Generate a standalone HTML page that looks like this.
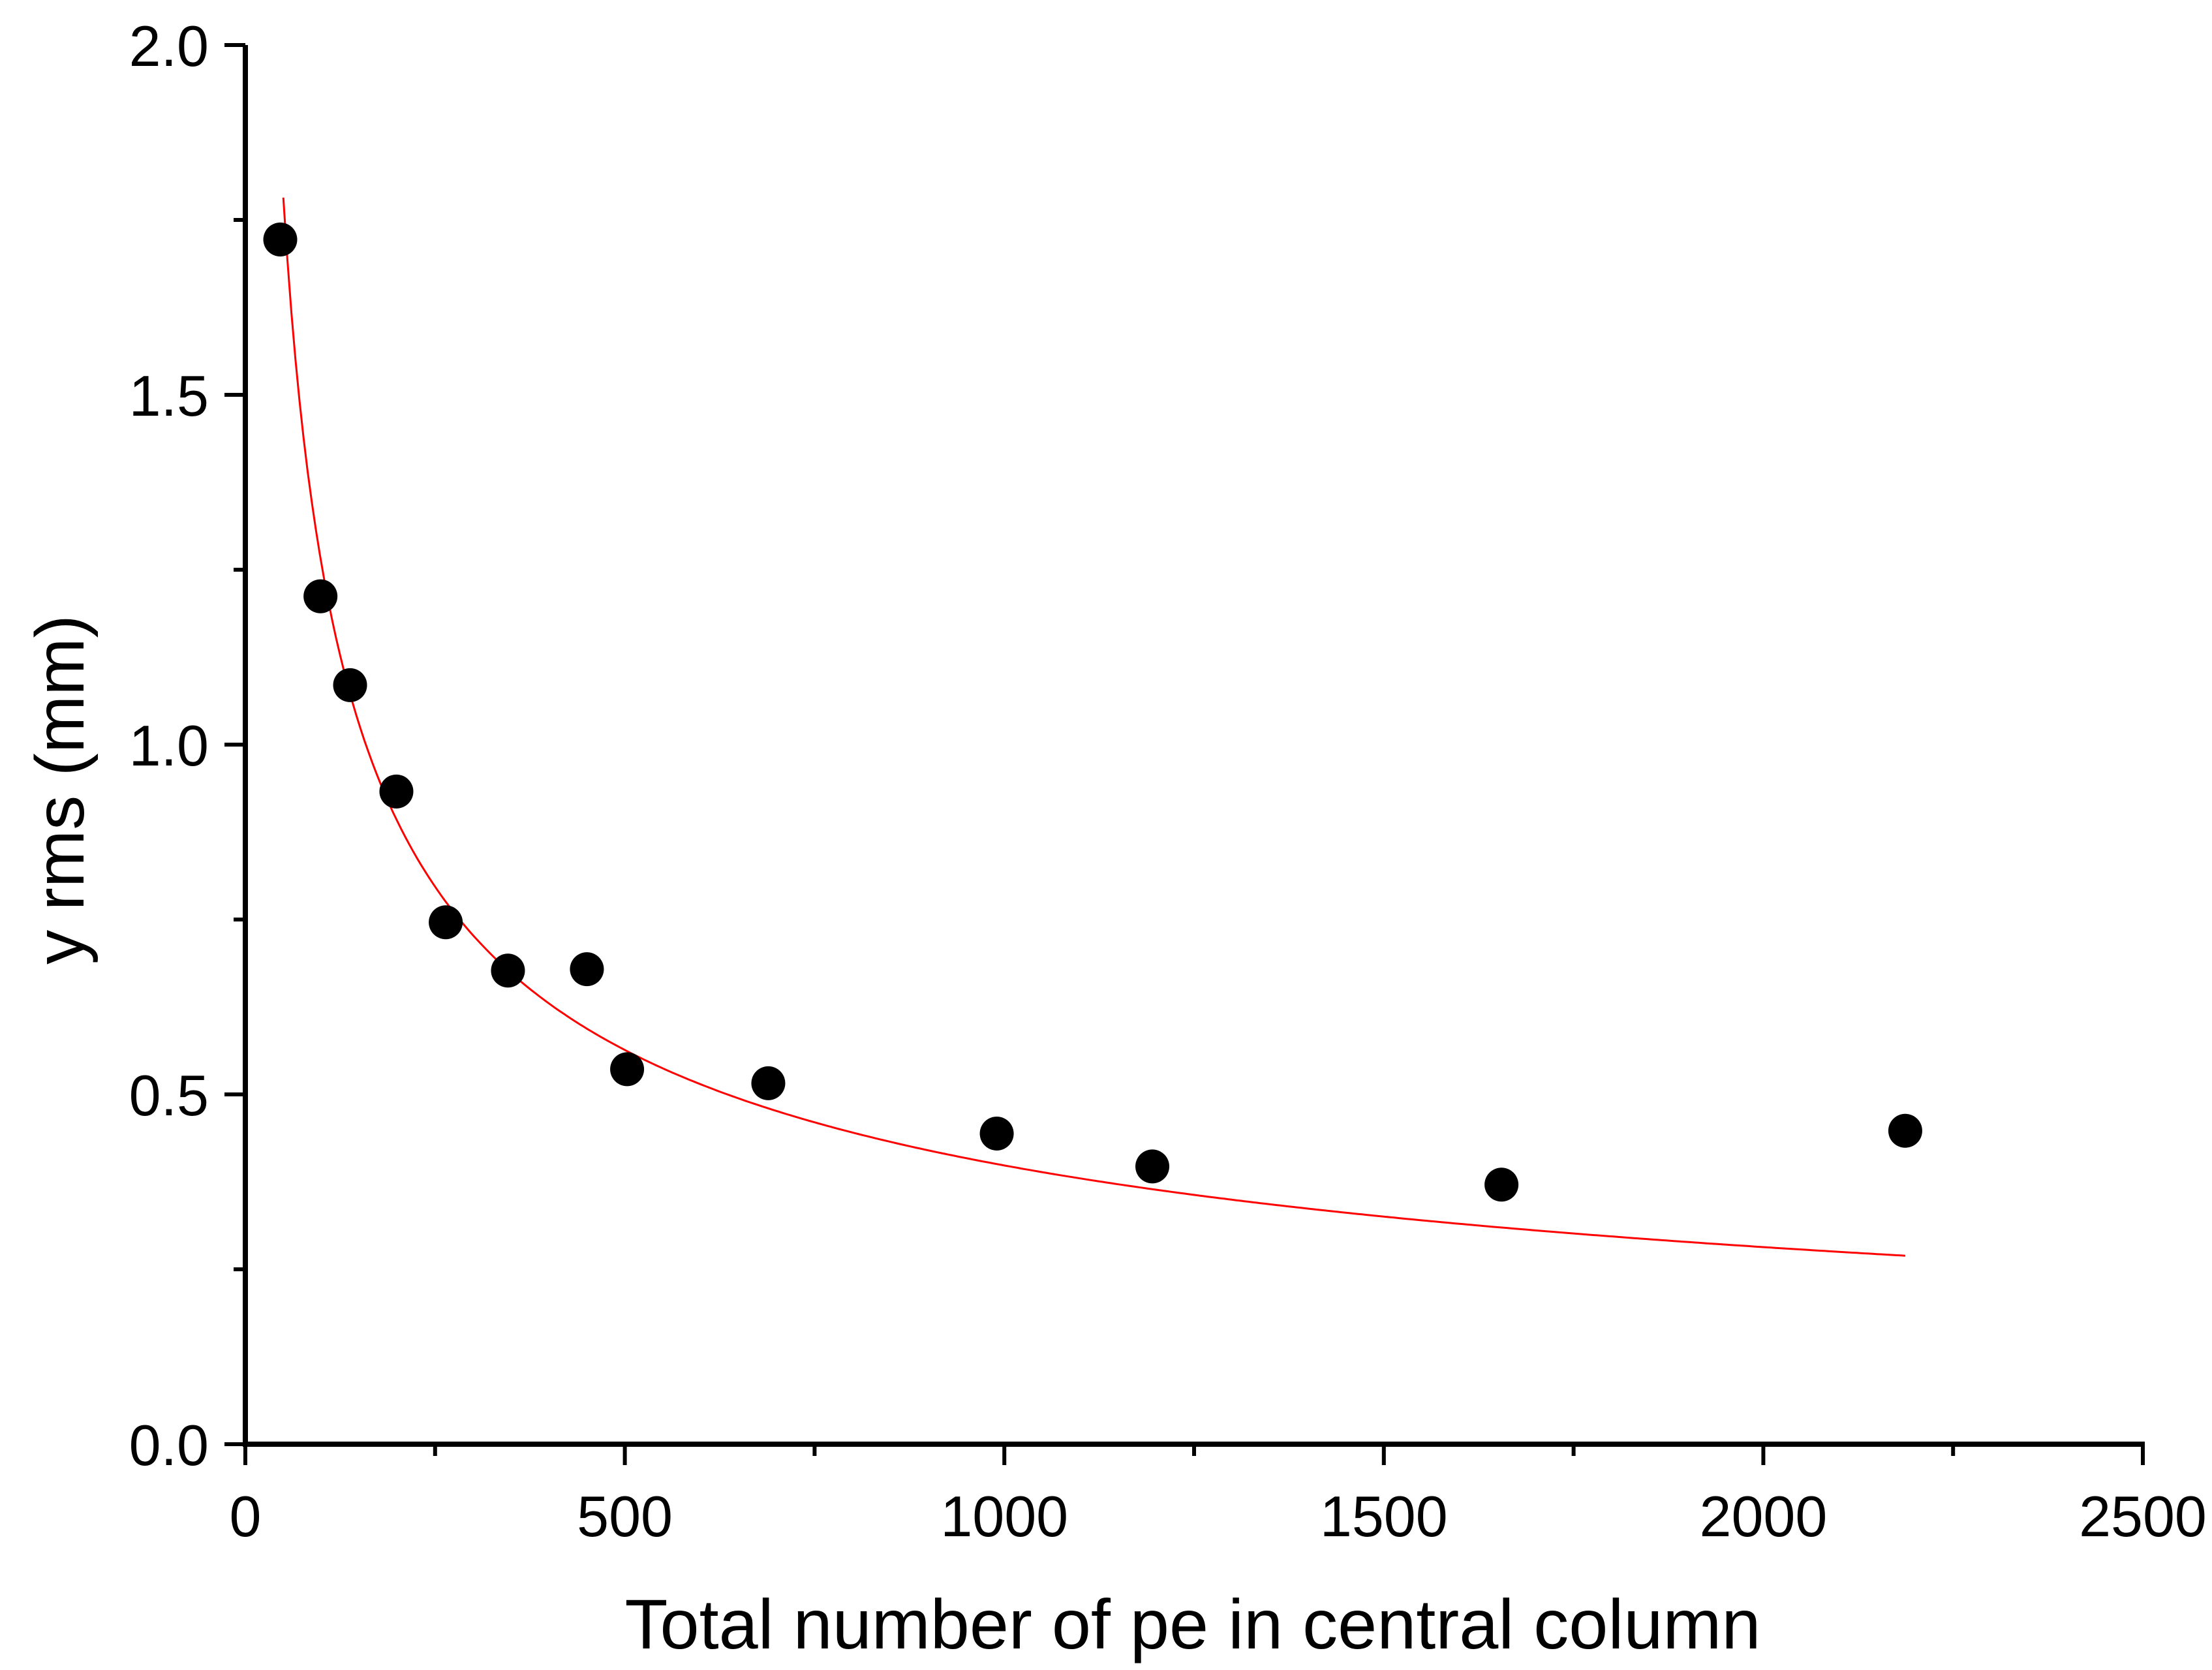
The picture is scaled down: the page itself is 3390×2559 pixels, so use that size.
<!DOCTYPE html>
<html><head><meta charset="utf-8"><style>html,body{margin:0;padding:0;background:#fff}svg{display:block}</style></head>
<body>
<svg id="chart" width="3390" height="2559" xmlns="http://www.w3.org/2000/svg" font-family="Liberation Sans, Arial, sans-serif">
<g id="axes"></g>
<g id="fit"></g>
<g id="pts"></g>
<text x="1828" y="2526" font-size="108" text-anchor="middle">Total number of pe in central column</text>
<text transform="translate(128,1210) rotate(-90)" font-size="106" text-anchor="middle">y rms (mm)</text>
</svg>
<script>
const xVals = [46, 99, 138, 199, 264, 346, 450, 503, 689, 990, 1195, 1655, 2187];
const yVals = [1.722, 1.212, 1.085, 0.933, 0.746, 0.677, 0.679, 0.536, 0.516, 0.444, 0.397, 0.371, 0.448];
const xTicks = [0, 500, 1000, 1500, 2000, 2500];
const xTickLabels = ["0", "500", "1000", "1500", "2000", "2500"];
const yTicks = [0, 0.5, 1.0, 1.5, 2.0];
const yTickLabels = ["0.0", "0.5", "1.0", "1.5", "2.0"];
const fitCoef = [12.6];
const fitRange = [50, 2187];

const NS = "http://www.w3.org/2000/svg";
const L = 376, R = 3284, T = 69, B = 2213;
const xs = v => L + (v - 0) / 2500 * (R - L);
const ys = v => B - v / 2.0 * (B - T);
function mk(tag, attrs, parent) {
  const e = document.createElementNS(NS, tag);
  for (const k in attrs) e.setAttribute(k, attrs[k]);
  parent.appendChild(e);
  return e;
}
const axes = document.getElementById('axes');
let e = mk('line', {x1: L - 4, y1: B, x2: R + 3, y2: B, stroke: '#000', 'stroke-width': 8}, axes);


e = mk('line', {x1: L, y1: B + 4, x2: L, y2: T, stroke: '#000', 'stroke-width': 8}, axes);


for (let v = 0; v <= 2500; v += 250) {
  const major = v % 500 === 0;
  e = mk('line', {x1: xs(v), y1: B, x2: xs(v), y2: B + (major ? 32 : 18), stroke: '#000', 'stroke-width': 6}, axes);
  
  
}
for (let v = 0; v <= 2.0001; v += 0.25) {
  const major = Math.abs(v * 2 - Math.round(v * 2)) < 1e-6;
  e = mk('line', {x1: L, y1: ys(v), x2: L - (major ? 32 : 18), y2: ys(v), stroke: '#000', 'stroke-width': 6}, axes);
  
  
}
xTicks.forEach((v, i) => {
  const t = mk('text', {x: xs(v), y: 2354, 'font-size': 88, 'text-anchor': 'middle'}, axes);
  t.textContent = xTickLabels[i];
  
  
});
yTicks.forEach((v, i) => {
  const t = mk('text', {x: 320, y: ys(v) + 32, 'font-size': 88, 'text-anchor': 'end'}, axes);
  t.textContent = yTickLabels[i];
  
  
});
let d = '';
for (let i = 0; i <= 400; i++) {
  const x = fitRange[0] + (fitRange[1] - fitRange[0]) * i / 400;
  const y = fitCoef[0] / Math.sqrt(x);
  d += (i ? 'L' : 'M') + xs(x).toFixed(1) + ' ' + ys(y).toFixed(1);
}
e = mk('path', {d: d, fill: 'none', stroke: '#ff0000', 'stroke-width': 3}, document.getElementById('fit'));


const pts = document.getElementById('pts');
xVals.forEach((x, i) => {
  const c = mk('circle', {cx: xs(x), cy: ys(yVals[i]), r: 26, fill: '#000'}, pts);
  
  
});
</script>
</body></html>
